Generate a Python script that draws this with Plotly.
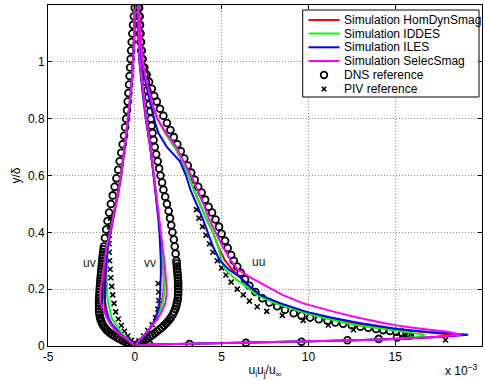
import plotly.graph_objects as go

# ---------------- data (x in units of 1e-3) ----------------
y_uu = [0, .005, .008, .012, .015, .019, .025, .032, .04, .05, .06, .07, .08, .10, .12, .15, .18, .21, .24, .27,
        .30, .35, .40, .45, .50, .55, .60, .65, .70, .75, .80, .85, .90, .95, 1.0, 1.1, 1.2]
uu_hom = [0, 0.9, 3.2, 6.4, 9.6, 12.2, 15.0, 17.3, 18.3, 16.3, 14.8, 13.7, 12.7, 11.1, 9.8, 8.2, 7.2, 6.6, 6.1, 5.6,
          5.2, 4.8, 4.5, 4.1, 3.75, 3.4, 3.1, 2.75, 2.3, 1.75, 1.3, 1.0, 0.77, 0.6, 0.45, 0.3, 0.22]
uu_iddes = [0, 0.9, 3.2, 6.4, 9.6, 12.2, 14.8, 16.3, 16.7, 15.5, 14.2, 13.1, 12.2, 10.8, 9.6, 8.1, 7.0, 6.4, 5.7, 5.2,
            5.0, 4.8, 4.5, 4.1, 3.75, 3.4, 3.1, 2.75, 2.3, 1.75, 1.3, 1.0, 0.77, 0.6, 0.45, 0.3, 0.22]
uu_iles = [0, 0.9, 3.2, 6.4, 9.6, 12.2, 15.0, 17.6, 19.2, 16.8, 15.1, 14.0, 13.0, 11.3, 9.9, 8.4, 7.2, 6.6, 6.1, 5.4,
           4.9, 4.5, 4.2, 3.9, 3.55, 3.2, 2.95, 2.6, 1.85, 1.35, 1.1, 0.9, 0.72, 0.55, 0.42, 0.3, 0.22]
uu_selec = [0, 0.9, 3.2, 6.4, 9.6, 12.2, 15.0, 17.3, 18.8, 18.0, 16.6, 15.3, 14.4, 12.8, 11.5, 9.7, 8.5, 7.6, 6.7, 5.9,
            5.55, 5.05, 4.67, 4.26, 3.95, 3.6, 3.25, 2.8, 2.4, 1.8, 1.3, 1.0, 0.78, 0.6, 0.45, 0.3, 0.22]

y_vv = [0, .01, .02, .04, .06, .08, .10, .12, .15, .18, .21, .25, .30, .35, .40, .45, .50, .55, .60, .70, .80, .90,
        1.0, 1.1, 1.2]
vv_hom = [0, 0.11, 0.28, 0.57, 0.86, 1.08, 1.28, 1.42, 1.55, 1.63, 1.67, 1.66, 1.62, 1.55, 1.47, 1.38, 1.29, 1.2,
          1.1, 0.9, 0.65, 0.45, 0.28, 0.22, 0.18]
vv_iddes = [0, 0.11, 0.28, 0.58, 0.87, 1.1, 1.3, 1.45, 1.6, 1.68, 1.7, 1.68, 1.63, 1.55, 1.47, 1.38, 1.29, 1.2,
            1.1, 0.9, 0.65, 0.45, 0.28, 0.22, 0.18]
vv_iles = [0, 0.12, 0.3, 0.6, 0.88, 1.05, 1.2, 1.3, 1.4, 1.45, 1.48, 1.5, 1.5, 1.47, 1.42, 1.35, 1.27, 1.18,
           1.08, 0.88, 0.63, 0.43, 0.27, 0.21, 0.18]
vv_selec = [0, 0.1, 0.25, 0.55, 0.85, 1.1, 1.35, 1.55, 1.75, 1.83, 1.83, 1.78, 1.7, 1.6, 1.5, 1.4, 1.3, 1.2,
            1.1, 0.9, 0.65, 0.45, 0.28, 0.22, 0.18]

y_uv = [0, .01, .02, .04, .06, .08, .10, .13, .16, .19, .22, .26, .30, .35, .40, .45, .50, .55, .60, .70, .80, .90,
        1.0, 1.1, 1.2]
uv_hom = [0, -0.15, -0.35, -0.82, -1.15, -1.4, -1.62, -1.72, -1.76, -1.78, -1.76, -1.72, -1.66, -1.57, -1.42, -1.25,
          -1.1, -0.93, -0.8, -0.58, -0.4, -0.22, -0.1, -0.03, 0.0]
uv_iddes = [0, -0.13, -0.3, -0.7, -0.95, -1.15, -1.35, -1.47, -1.55, -1.6, -1.63, -1.63, -1.6, -1.53, -1.4, -1.23,
            -1.08, -0.92, -0.78, -0.56, -0.38, -0.21, -0.1, -0.03, 0.0]
uv_iles = [0, -0.15, -0.33, -0.8, -1.1, -1.35, -1.52, -1.65, -1.72, -1.72, -1.7, -1.68, -1.63, -1.55, -1.4, -1.23,
           -1.08, -0.92, -0.78, -0.56, -0.38, -0.21, -0.1, -0.03, 0.0]
uv_selec = [0, -0.15, -0.35, -0.85, -1.2, -1.45, -1.6, -1.85, -2.0, -2.0, -1.92, -1.82, -1.75, -1.62, -1.42, -1.25,
            -1.1, -0.93, -0.8, -0.58, -0.4, -0.22, -0.1, -0.03, 0.0]

dns_uu_y = [1.19, 1.16, 1.13, 1.10, 1.07, 1.04, 1.01, 0.98, 0.955, 0.93,
            0.905, 0.88, 0.86, 0.835, 0.81, 0.785, 0.76, 0.735, 0.71, 0.685,
            0.66, 0.635, 0.61, 0.585, 0.56, 0.54, 0.515, 0.49, 0.47, 0.445,
            0.42, 0.395, 0.37, 0.345, 0.32, 0.30, 0.28, 0.258, 0.235, 0.212,
            0.19, 0.168, 0.153, 0.14, 0.128, 0.115, 0.107, 0.10, 0.094, 0.089,
            0.083, 0.078, 0.073, 0.068, 0.064, 0.06, 0.056, 0.053, 0.05, 0.047,
            0.044, 0.041, 0.038, 0.035, 0.03, 0.025, 0.02, 0.015, 0.011, 0.007,
            0.004, 0.0]
dns_uu_x = [0.25, 0.28, 0.3, 0.33, 0.36, 0.4, 0.45, 0.55, 0.68, 0.82,
            0.98, 1.12, 1.27, 1.45, 1.65, 1.85, 2.05, 2.25, 2.45, 2.65,
            2.85, 3.05, 3.25, 3.45, 3.65, 3.85, 4.05, 4.25, 4.45, 4.65,
            4.85, 5.0, 5.2, 5.35, 5.55, 5.7, 5.9, 6.1, 6.35, 6.6,
            6.95, 7.35, 7.75, 8.2, 8.65, 9.15, 9.6, 10.1, 10.6, 11.1,
            11.55, 12.0, 12.5, 13.0, 13.45, 13.9, 14.3, 14.7, 15.05, 15.4,
            15.65, 15.8, 15.85, 15.75, 15.1, 14.05, 12.25, 9.6, 6.4, 3.15,
            0.85, 0.0]

dns_vv_y = [1.19, 1.16, 1.13, 1.10, 1.07, 1.04, 1.01, 0.98, 0.955, 0.93,
            0.9, 0.875, 0.85, 0.825, 0.8, 0.775, 0.75, 0.725, 0.70, 0.675,
            0.65, 0.625, 0.6, 0.575, 0.55, 0.525, 0.5, 0.475, 0.45, 0.425,
            0.4, 0.375, 0.35, 0.325,
            0.30, 0.29, 0.28, 0.27, 0.26, 0.25, 0.24, 0.23, 0.22, 0.21,
            0.20, 0.19, 0.18, 0.17, 0.16, 0.15, 0.14, 0.13, 0.12, 0.11,
            0.10, 0.093, 0.086, 0.079, 0.072, 0.065, 0.058, 0.051, 0.045, 0.039,
            0.033, 0.027, 0.022, 0.017, 0.012, 0.008, 0.004, 0.0]
dns_vv_x = [0.2, 0.24, 0.27, 0.3, 0.33, 0.37, 0.42, 0.48, 0.56, 0.64,
            0.72, 0.78, 0.84, 0.89, 0.93, 0.97, 1.02, 1.08, 1.15, 1.23,
            1.32, 1.4, 1.48, 1.57, 1.65, 1.75, 1.85, 1.95, 2.03, 2.1,
            2.17, 2.25, 2.3, 2.35,
            2.4, 2.41, 2.42, 2.44, 2.45, 2.47, 2.48, 2.49, 2.5, 2.5,
            2.5, 2.5, 2.49, 2.48, 2.46, 2.42, 2.38, 2.33, 2.26, 2.18,
            2.08, 2.0, 1.9, 1.8, 1.68, 1.56, 1.42, 1.28, 1.15, 1.02,
            0.88, 0.73, 0.6, 0.47, 0.34, 0.22, 0.1, 0.0]

dns_uv_y = [1.19, 1.16, 1.13, 1.10, 1.07, 1.04, 1.01, 0.98, 0.95, 0.92,
            0.89, 0.86, 0.83, 0.80, 0.77, 0.74, 0.71, 0.68, 0.65, 0.62,
            0.59, 0.56, 0.53, 0.50, 0.47, 0.44, 0.41, 0.38,
            0.35, 0.34, 0.33, 0.32, 0.31, 0.30, 0.29, 0.28, 0.27, 0.26,
            0.25, 0.24, 0.23, 0.22, 0.21, 0.20, 0.19, 0.18, 0.17, 0.16,
            0.15, 0.14, 0.13, 0.12, 0.11,
            0.10, 0.093, 0.086, 0.079, 0.072, 0.065, 0.058, 0.052, 0.046, 0.04,
            0.035, 0.03, 0.025, 0.02, 0.016, 0.012, 0.008, 0.004, 0.0]
dns_uv_x = [0.0, -0.05, -0.1, -0.14, -0.18, -0.21, -0.24, -0.27, -0.3, -0.33,
            -0.37, -0.41, -0.45, -0.5, -0.56, -0.62, -0.7, -0.78, -0.87, -0.96,
            -1.06, -1.16, -1.27, -1.38, -1.48, -1.57, -1.65, -1.72,
            -1.78, -1.8, -1.82, -1.84, -1.86, -1.87, -1.89, -1.91, -1.92, -1.94,
            -1.95, -1.97, -1.98, -1.99, -2.01, -2.02, -2.03, -2.04, -2.05, -2.06,
            -2.06, -2.06, -2.06, -2.05, -2.03,
            -2.0, -1.97, -1.93, -1.88, -1.82, -1.74, -1.65, -1.55, -1.43, -1.3,
            -1.17, -1.03, -0.88, -0.73, -0.6, -0.46, -0.31, -0.15, 0.0]

piv_uu_x = [3.55, 3.7, 3.9, 4.1, 4.3, 4.5, 4.75, 5.0, 5.25, 5.55, 5.9, 6.25, 6.6, 7.05, 7.6, 8.5, 9.7, 11.15, 12.6, 17.9]
piv_uu_y = [0.48, 0.45, 0.42, 0.39, 0.36, 0.33, 0.30, 0.275, 0.25, 0.225, 0.20, 0.18, 0.158, 0.138, 0.122, 0.108,
            0.09, 0.074, 0.057, 0.021]
piv_vv_x = [1.35, 1.38, 1.38, 1.33, 1.2, 1.0, 0.75, 0.5, 0.25]
piv_vv_y = [0.22, 0.19, 0.16, 0.13, 0.10, 0.075, 0.055, 0.035, 0.018]
piv_uv_x = [-1.4, -1.45, -1.47, -1.48, -1.47, -1.45, -1.42, -1.38, -1.33, -1.27, -1.2, -1.1, -0.95, -0.78, -0.6,
            -0.4, -0.2]
piv_uv_y = [0.45, 0.42, 0.39, 0.36, 0.33, 0.30, 0.27, 0.24, 0.21, 0.18, 0.15, 0.12, 0.095, 0.072, 0.052, 0.035, 0.02]

sim_names = ["Simulation HomDynSmag", "Simulation IDDES", "Simulation ILES", "Simulation SelecSmag"]
sim_colors = ["#ff0000", "#00ff00", "#0000ff", "#ff00ff"]
sim_uu = [uu_hom, uu_iddes, uu_iles, uu_selec]
sim_vv = [vv_hom, vv_iddes, vv_iles, vv_selec]
sim_uv = [uv_hom, uv_iddes, uv_iles, uv_selec]
ref_names = ["DNS reference", "PIV reference"]
component_labels = ["uv", "vv", "uu"]
component_label_x = [-2.6, 0.87, 7.1]
component_label_y = [0.292, 0.292, 0.295]
xticks = [-5, 0, 5, 10, 15, 20]
yticks = [0, 0.2, 0.4, 0.6, 0.8, 1.0]

# ---------------- figure ----------------
W, H = 485, 381
L, R, T, B = 48, 3, 5, 35
pw, ph = W - L - R, H - T - B
FONT = "Liberation Sans"


def px(xp):
    return (xp - L) / pw


def py(yp):
    return (H - B - yp) / ph


fig = go.Figure()

fig.add_trace(go.Scatter(x=dns_uu_x + [None] + dns_vv_x + [None] + dns_uv_x,
                         y=dns_uu_y + [None] + dns_vv_y + [None] + dns_uv_y,
                         mode="markers", name=ref_names[0], showlegend=False,
                         marker=dict(symbol="circle-open", size=6.8, color="black",
                                     line=dict(width=1.8, color="black"))))
fig.add_trace(go.Scatter(x=piv_uu_x + [None] + piv_vv_x + [None] + piv_uv_x,
                         y=piv_uu_y + [None] + piv_vv_y + [None] + piv_uv_y,
                         mode="markers", name=ref_names[1], showlegend=False,
                         marker=dict(symbol="x-thin-open", size=5, color="black",
                                     line=dict(width=1.6, color="black"))))

for name, col, uu, vv, uv in zip(sim_names, sim_colors, sim_uu, sim_vv, sim_uv):
    fig.add_trace(go.Scatter(x=uu + [None] + vv + [None] + uv,
                             y=y_uu + [None] + y_vv + [None] + y_uv,
                             mode="lines", name=name, showlegend=False,
                             line=dict(color=col, width=2)))

shapes = []
annotations = []

# manual legend
lx0, lx1, ly0, ly1 = 302.7, 479, 10, 97
shapes.append(dict(type="rect", xref="paper", yref="paper", x0=px(lx0), x1=px(lx1), y0=py(ly1), y1=py(ly0),
                   line=dict(color="black", width=1), fillcolor="white", layer="above"))
row_y = [20, 33.5, 47.3, 61, 75, 89]
labels = sim_names + ref_names
for i, lab in enumerate(labels):
    yy = row_y[i]
    if i < 4:
        shapes.append(dict(type="line", xref="paper", yref="paper", x0=px(308.5), x1=px(339.5),
                           y0=py(yy), y1=py(yy), line=dict(color=sim_colors[i], width=2), layer="above"))
    elif i == 4:
        r = 3.3
        shapes.append(dict(type="circle", xref="paper", yref="paper", x0=px(324 - r), x1=px(324 + r),
                           y0=py(yy + r), y1=py(yy - r), line=dict(color="black", width=1.8), layer="above"))
    else:
        d = 2.2
        shapes.append(dict(type="line", xref="paper", yref="paper", x0=px(324 - d), x1=px(324 + d),
                           y0=py(yy + d), y1=py(yy - d), line=dict(color="black", width=1.6), layer="above"))
        shapes.append(dict(type="line", xref="paper", yref="paper", x0=px(324 - d), x1=px(324 + d),
                           y0=py(yy - d), y1=py(yy + d), line=dict(color="black", width=1.6), layer="above"))
    annotations.append(dict(text=lab, xref="paper", yref="paper", x=px(341.5), y=py(yy), xanchor="left",
                            yanchor="middle", showarrow=False,
                            font=dict(family=FONT, size=12, color="black")))

for t, xx, yy in zip(component_labels, component_label_x, component_label_y):
    annotations.append(dict(text=t, x=xx, y=yy, xref="x", yref="y", showarrow=False,
                            font=dict(family=FONT, size=12, color="#222")))

annotations.append(dict(text="x 10<sup>−3</sup>", xref="paper", yref="paper",
                        x=px(443), y=py(370), xanchor="left", yanchor="middle", showarrow=False,
                        font=dict(family=FONT, size=12, color="black")))

axis_common = dict(showline=True, linecolor="black", linewidth=1, mirror="ticks", ticks="inside",
                   ticklen=4, tickcolor="black", tickwidth=1, showgrid=True, gridcolor="#8c8c8c",
                   griddash="1px,2px", gridwidth=1, zeroline=False, automargin=False,
                   tickfont=dict(family=FONT, size=12, color="black"))

fig.update_layout(
    width=W, height=H, margin=dict(l=L, r=R, t=T, b=B),
    paper_bgcolor="white", plot_bgcolor="white",
    font=dict(family=FONT, size=12, color="black"),
    xaxis=dict(range=[-5, 20], tickvals=xticks, ticktext=[str(v) for v in xticks],
               title=dict(text="u<sub>i</sub>u<sub>j</sub>/u<sub>∞</sub>", standoff=2,
                          font=dict(family=FONT, size=12, color="black")),
               **axis_common),
    yaxis=dict(range=[0, 1.2], tickvals=yticks, ticktext=["0", "0.2", "0.4", "0.6", "0.8", "1"],
               title=dict(text="y/δ", standoff=4, font=dict(family=FONT, size=12, color="black")),
               **axis_common),
    shapes=shapes, annotations=annotations, showlegend=False,
)

fig.write_html("out.html")
